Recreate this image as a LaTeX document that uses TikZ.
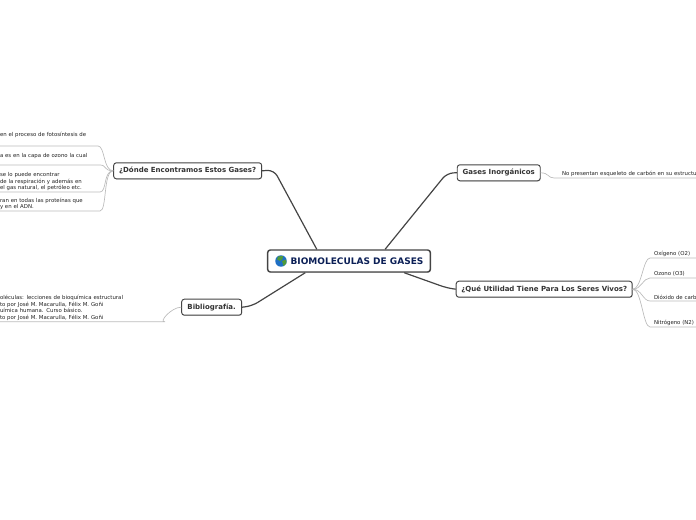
\documentclass[tikz,border=0pt]{standalone}
\usepackage{fontspec}
\setmainfont{DejaVu Sans}
\usetikzlibrary{positioning,shadows}

\definecolor{boxline}{HTML}{444444}
\definecolor{twigline}{HTML}{BBBBBB}
\definecolor{boxtext}{HTML}{333333}
\definecolor{leaftext}{HTML}{222222}
\definecolor{roottext}{HTML}{0B1F56}
\definecolor{globeblue}{HTML}{1F6FC4}
\definecolor{globegreen}{HTML}{4F9A3A}

\begin{document}
\begin{tikzpicture}[
  x=0.75pt, y=-0.75pt,
  box/.style={draw=boxline, fill=white, rounded corners=2pt, line width=0.7pt, inner sep=0pt,
    minimum height=12pt, align=center, text=boxtext, font=\fontsize{5.25}{6}\selectfont\bfseries,
    drop shadow={shadow xshift=0.3pt, shadow yshift=-0.6pt, opacity=0.3}},
  rootbox/.style={box, line width=1.1pt, minimum width=122pt, minimum height=16.5pt,
    text=roottext, font=\fontsize{6.75}{7}\selectfont\bfseries},
  leaf/.style={inner xsep=0pt, inner ysep=1pt, outer sep=0pt, anchor=south west, align=left, text=leaftext,
    font=\fontsize{4.05}{4.9}\selectfont},
  trunk/.style={draw=boxline, line width=0.9pt, rounded corners=5pt},
  twig/.style={draw=twigline, line width=0.5pt}
]
  \useasboundingbox (0,0) rectangle (696,520);
  \clip (0,0) rectangle (696,520);

  \node[rootbox] (root) at (349,261) {\hspace*{12pt}BIOMOLECULAS DE GASES};
  \node[box, minimum width=111pt, above left=52.5pt and 3.6pt of root] (donde) {¿Dónde Encontramos Estos Gases?};
  \node[box, minimum width=62.25pt, above right=51pt and 19.3pt of root] (inorganicos) {Gases Inorgánicos};
  \node[box, minimum width=132pt, below right=6pt and 18.5pt of root] (utilidad) {¿Qué Utilidad Tiene Para Los Seres Vivos?};
  \node[box, minimum width=45pt, below left=19.5pt and 18.6pt of root] (biblio) {Bibliografía.};

  % globe icon
  \node[circle, fill=globeblue, minimum size=8.6pt, inner sep=0pt] (globe) at (281,261) {};
  \fill[globegreen] (278,256.5) -- (283,256) -- (282.5,259) -- (280,261) -- (277,259.5) -- cycle;
  \fill[globegreen] (282,261) -- (286,259.5) -- (286.5,263) -- (283.5,266) -- cycle;

  % left side
  \node[leaf, text width=73.5pt] (foto) at (0,146) {en el proceso de fotosíntesis de\\[1.5pt]~};
  \node[leaf, text width=75pt] (ozono) at (0,165) {a es en la capa de ozono la cual\\~};
  \node[leaf, text width=75pt] (gas) at (0,192) {se lo puede encontrar\\de la respiración y además en\\el gas natural, el petróleo etc.};
  \node[leaf, text width=75pt] (adn) at (0,211) {ran en todas las proteínas que\\y en el ADN.};
  \node[leaf, text width=123.75pt] (libros) at (0,321.7) {oléculas: lecciones de bioquímica estructural\\to por José M. Macarulla, Félix M. Goñi\\uímica humana. Curso básico.\\to por José M. Macarulla, Félix M. Goñi};

  % right side
  \node[leaf, text width=106.5pt] (esqueleto) at (554,178) {\hspace*{6pt}\mbox{No presentan esqueleto de carbón en su estructu}};
  \node[leaf, text width=34.5pt] (oxigeno) at (650,258) {\hspace*{3pt}Oxígeno (O2)};
  \node[leaf, text width=34.5pt] (ozonotres) at (650,278) {\hspace*{3pt}Ozono (O3)};
  \node[leaf, text width=34.5pt] (dioxido) at (650,301) {\hspace*{3pt}\mbox{Dióxido de carb}};
  \node[leaf, text width=34.5pt] (nitrogeno) at (650,327) {\hspace*{3pt}\mbox{Nitrógeno (N2)}};

  \draw[trunk] (root.160.5) -- (274,170) -- (donde.east);
  \draw[trunk] (root.18) -- (447,173) -- (inorganicos.west);
  \draw[trunk] (root.-12.7) -- (447,288) -- (utilidad.west);
  \draw[trunk] (root.195) -- (252,306) -- (biblio.east);

  \draw[twig] (donde.west) .. controls +(-10,0) and +(7,0) .. (foto.south east) -- (foto.south west);
  \draw[twig] (donde.west) .. controls +(-10,0) and +(7,0) .. (ozono.south east) -- (ozono.south west);
  \draw[twig] (donde.west) .. controls +(-10,0) and +(7,0) .. (gas.south east) -- (gas.south west);
  \draw[twig] (donde.west) .. controls +(-10,0) and +(7,0) .. (adn.south east) -- (adn.south west);
  \draw[twig] (biblio.west) .. controls +(-10,0) and +(-7,1) .. (libros.south east) -- (libros.south west);
  \draw[twig] (inorganicos.east) .. controls +(8,0) and +(-6,0) .. (esqueleto.south west) -- (esqueleto.south east);
  \draw[twig] (utilidad.east) .. controls +(9,0) and +(-7,0) .. (oxigeno.south west) -- (oxigeno.south east);
  \draw[twig] (utilidad.east) .. controls +(9,0) and +(-7,0) .. (ozonotres.south west) -- (ozonotres.south east);
  \draw[twig] (utilidad.east) .. controls +(9,0) and +(-7,0) .. (dioxido.south west) -- (dioxido.south east);
  \draw[twig] (utilidad.east) .. controls +(9,0) and +(-7,0) .. (nitrogeno.south west) -- (nitrogeno.south east);
\end{tikzpicture}
\end{document}
